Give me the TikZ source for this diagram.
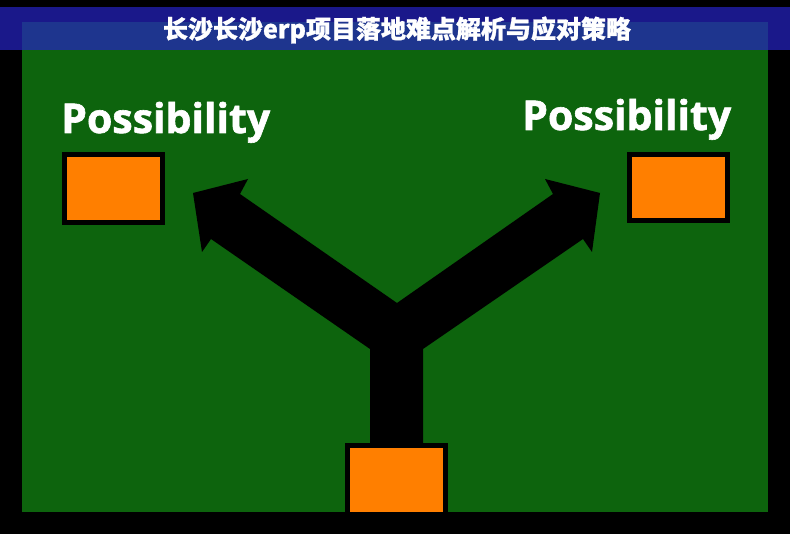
\documentclass[tikz,border=0pt]{standalone}
\usepackage{fontspec}
\newfontfamily\labelfont{Open Sans}[BoldFeatures={FakeBold=1.5}]
\newfontfamily\cjk{Noto Sans CJK SC}[BoldFeatures={FakeBold=1}]
\definecolor{boardgreen}{RGB}{13,100,13}
\definecolor{boxorange}{RGB}{255,127,0}
\definecolor{bandblue}{RGB}{37,35,195}

\begin{document}
\begin{tikzpicture}[
  x=1pt, y=-1pt,
  box/.style={draw=black, line width=5, fill=boxorange, minimum width=98, inner sep=0},
  word/.style={white, anchor=base west, inner sep=0, font=\labelfont\bfseries\fontsize{41}{41}\selectfont},
]
  \fill[black] (0,0) rectangle (790,534);
  \useasboundingbox (0,0) rectangle (790,534);
  \fill[boardgreen] (22,22) rectangle (768,512);

  % the forked arrow
  \fill[black] (370,460) -- (370,349) -- (211,239) -- (202,252) -- (193,193)
    -- (248,179) -- (240,194) -- (397,303) -- (553,194) -- (545,179)
    -- (600,193) -- (592,252) -- (583,239) -- (423,349) -- (423,460) -- cycle;

  \node[box, minimum height=68] (leftbox) at (113.5,188.5) {};
  \node[box, minimum height=66] (rightbox) at (678.5,187.5) {};
  \node[box, minimum height=69] (basebox) at (396.5,480) {};

  \node[word] (leftword) at (61,133) {Possibility};
  \node[word] (rightword) at (522,130) {Possibility};

  \fill[bandblue, opacity=0.71] (0,7) rectangle (790,50);
  \node[white, font=\cjk\bfseries\fontsize{25}{25}\selectfont] (title) at (397,30) {长沙长沙erp项目落地难点解析与应对策略};
\end{tikzpicture}
\end{document}
